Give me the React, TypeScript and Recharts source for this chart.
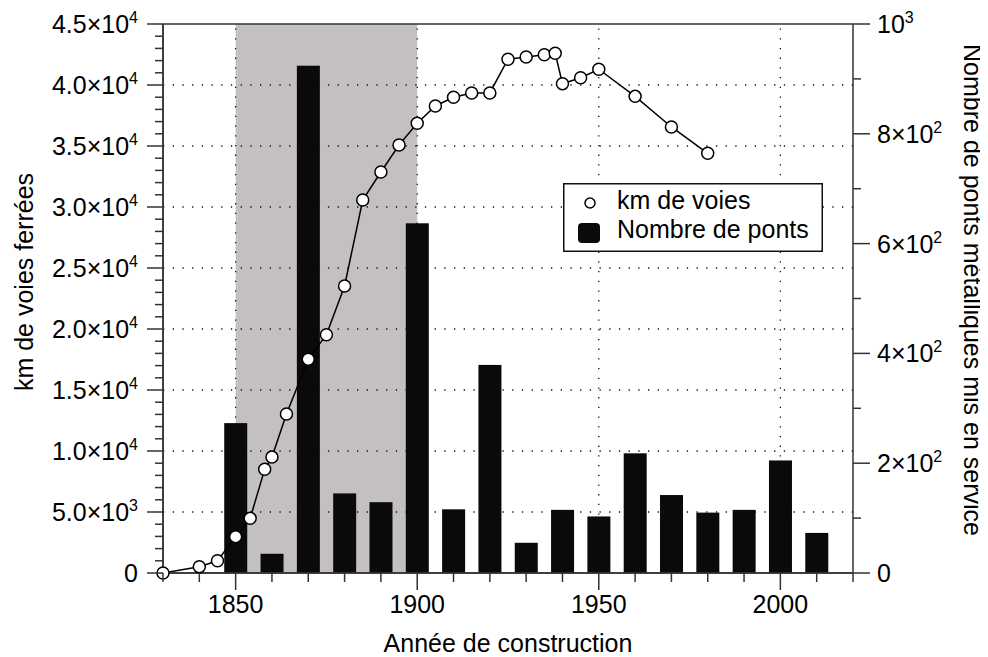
import {
  ComposedChart,
  Bar,
  Line,
  XAxis,
  YAxis,
  ReferenceArea,
  ReferenceLine,
  Legend,
  Label,
} from "recharts";

// km de voies ferrées (left axis)
const kmYears = [
  1830, 1840, 1845, 1850, 1854, 1858, 1860, 1864, 1870, 1875, 1880, 1885, 1890,
  1895, 1900, 1905, 1910, 1915, 1920, 1925, 1930, 1935, 1938, 1940, 1945, 1950,
  1960, 1970, 1980,
];
const kmVoies = [
  0, 520, 1000, 2980, 4480, 8500, 9500, 13030, 17520, 19530, 23530, 30570,
  32870, 35080, 36860, 38280, 38990, 39350, 39350, 42110, 42300, 42480, 42600,
  40110, 40600, 41290, 39070, 36560, 34400,
];

// nombre de ponts métalliques (right axis)
const pontYears = [
  1850, 1860, 1870, 1880, 1890, 1900, 1910, 1920, 1930, 1940, 1950, 1960, 1970,
  1980, 1990, 2000, 2010,
];
const ponts = [
  273, 35, 924, 145, 129, 637, 116, 379, 55, 115, 103, 218, 142, 110, 115, 205,
  73,
];

// axes
const xTicks = [
  1830, 1840, 1850, 1860, 1870, 1880, 1890, 1900, 1910, 1920, 1930, 1940, 1950,
  1960, 1970, 1980, 1990, 2000, 2010, 2020,
];
const xLabels = [1850, 1900, 1950, 2000];
const leftMajor = [0, 5000, 10000, 15000, 20000, 25000, 30000, 35000, 40000, 45000];
const leftLabels = [
  ["0", ""],
  ["5.0×10", "3"],
  ["1.0×10", "4"],
  ["1.5×10", "4"],
  ["2.0×10", "4"],
  ["2.5×10", "4"],
  ["3.0×10", "4"],
  ["3.5×10", "4"],
  ["4.0×10", "4"],
  ["4.5×10", "4"],
];
const rightMajor = [0, 200, 400, 600, 800, 1000];
const rightLabels = [
  ["0", ""],
  ["2×10", "2"],
  ["4×10", "2"],
  ["6×10", "2"],
  ["8×10", "2"],
  ["10", "3"],
];
const gridX = [1850, 1900, 1950, 2000];
const gridY = [5000, 10000, 15000, 20000, 25000, 30000, 35000, 40000];

const leftTicks = Array.from({ length: 46 }, (_, i) => i * 1000);
const rightTicks = Array.from({ length: 11 }, (_, i) => i * 100);

const allYears = Array.from(new Set([...kmYears, ...pontYears])).sort((a, b) => a - b);
const data = allYears.map((year) => {
  const k = kmYears.indexOf(year);
  const p = pontYears.indexOf(year);
  return {
    year,
    km: k >= 0 ? kmVoies[k] : null,
    ponts: p >= 0 ? ponts[p] : null,
  };
});

const FONT = "'Liberation Sans', Arial, Helvetica, sans-serif";
const AXIS = "#333";
const FS = 25;
const BAR_W = 23;

const SupText = ({ x, y, anchor, base, sup }: any) => (
  <text x={x} y={y} textAnchor={anchor} fontSize={FS} fontFamily={FONT} fill="#000">
    <tspan>{base}</tspan>
    {sup && (
      <tspan dy={-10} fontSize={16}>
        {sup}
      </tspan>
    )}
  </text>
);

const LeftTick = ({ x, y, payload }: any) => {
  const i = leftMajor.indexOf(payload.value);
  const major = i >= 0;
  return (
    <g>
      <line x1={x} x2={x - (major ? 16 : 8)} y1={y} y2={y} stroke={AXIS} strokeWidth={1.5} />
      {major && (
        <SupText x={x - 25} y={y + 9} anchor="end" base={leftLabels[i][0]} sup={leftLabels[i][1]} />
      )}
    </g>
  );
};

const RightTick = ({ x, y, payload }: any) => {
  const i = rightMajor.indexOf(payload.value);
  const major = i >= 0;
  return (
    <g>
      <line x1={x} x2={x + (major ? 17 : 8)} y1={y} y2={y} stroke={AXIS} strokeWidth={1.5} />
      {major && (
        <SupText x={x + 24} y={y + 9} anchor="start" base={rightLabels[i][0]} sup={rightLabels[i][1]} />
      )}
    </g>
  );
};

const BottomTick = ({ x, y, payload }: any) => {
  const major = xLabels.includes(payload.value);
  return (
    <g>
      <line x1={x} x2={x} y1={y} y2={y + (major ? 17 : 9)} stroke={AXIS} strokeWidth={1.5} />
      {major && (
        <text x={x} y={y + 40} textAnchor="middle" fontSize={FS} fontFamily={FONT} fill="#000">
          {payload.value}
        </text>
      )}
    </g>
  );
};

// bars keep the library's x / y / height, only widened around their centre
const WideBar = (props: any) => {
  const { x, y, width, height } = props;
  if (height == null || !(height > 0)) return null;
  const cx = x + width / 2;
  return <rect x={cx - BAR_W / 2} y={y} width={BAR_W} height={height} fill="#0a0a0a" />;
};

const LegendBox = () => (
  <svg width={260} height={69} style={{ display: "block" }}>
    <rect x={0.75} y={0.75} width={258.5} height={67.5} fill="#fff" stroke="#111" strokeWidth={1.5} />
    <circle cx={27} cy={20} r={5} fill="#fff" stroke="#000" strokeWidth={1.5} />
    <text x={54} y={26} fontSize={FS} fontFamily={FONT}>
      km de voies
    </text>
    <rect x={15} y={40} width={22} height={20} rx={4} fill="#0a0a0a" />
    <text x={54} y={55} fontSize={FS} fontFamily={FONT}>
      Nombre de ponts
    </text>
  </svg>
);

export default function App() {
  return (
    <div style={{ width: 980, height: 649, fontFamily: FONT, background: "#fff" }}>
      <ComposedChart
        width={980}
        height={649}
        data={data}
        margin={{ top: 16, right: 0, bottom: 0, left: 0 }}
      >
        <ReferenceArea
          yAxisId="left"
          x1={1850}
          x2={1900}
          y1={0}
          y2={45000}
          fill="#c4c0bf"
          fillOpacity={1}
          stroke="none"
        />
        {gridX.map((g) => (
          <ReferenceLine
            key={"gx" + g}
            yAxisId="left"
            x={g}
            stroke="#111"
            strokeWidth={1.3}
            strokeDasharray="1.3 8.4"
          />
        ))}
        {gridY.map((g) => (
          <ReferenceLine
            key={"gy" + g}
            yAxisId="left"
            y={g}
            stroke="#111"
            strokeWidth={1.3}
            strokeDasharray="1.3 8.4"
          />
        ))}
        <Bar
          yAxisId="right"
          dataKey="ponts"
          fill="#0a0a0a"
          shape={<WideBar />}
          isAnimationActive={false}
        />
        <Line
          yAxisId="left"
          dataKey="km"
          type="linear"
          stroke="#000"
          strokeWidth={1.5}
          connectNulls
          dot={{ r: 6, fill: "#fff", stroke: "#000", strokeWidth: 1.5 }}
          activeDot={false}
          isAnimationActive={false}
        />
        {/* frame: top border, and left / bottom lines redrawn over the first marker */}
        <ReferenceLine yAxisId="left" y={45000} stroke={AXIS} strokeWidth={1.5} />
        <ReferenceLine yAxisId="left" y={0} stroke={AXIS} strokeWidth={1.5} />
        <ReferenceLine yAxisId="left" x={1830} stroke={AXIS} strokeWidth={1.5} />
        <XAxis
          dataKey="year"
          type="number"
          domain={[1830, 2020]}
          ticks={xTicks}
          interval={0}
          height={84}
          tickSize={0}
          tickMargin={0}
          tickLine={false}
          axisLine={{ stroke: AXIS, strokeWidth: 1.5 }}
          tick={<BottomTick />}
        >
          <Label
            content={() => (
              <text x={500} y={644} textAnchor="middle" fontSize={FS} fontFamily={FONT} fill="#000">
                Année de construction
              </text>
            )}
          />
        </XAxis>
        <YAxis
          yAxisId="left"
          domain={[0, 45000]}
          ticks={leftTicks}
          interval={0}
          width={155}
          tickSize={0}
          tickMargin={0}
          tickLine={false}
          axisLine={{ stroke: AXIS, strokeWidth: 1.5 }}
          tick={<LeftTick />}
        >
          <Label
            content={() => (
              <text
                x={25}
                y={274}
                transform="rotate(-90, 25, 274)"
                textAnchor="middle"
                fontSize={FS}
                fontFamily={FONT}
                fill="#000"
              >
                km de voies ferrées
              </text>
            )}
          />
        </YAxis>
        <YAxis
          yAxisId="right"
          orientation="right"
          domain={[0, 1000]}
          ticks={rightTicks}
          interval={0}
          width={135}
          tickSize={0}
          tickMargin={0}
          tickLine={false}
          axisLine={{ stroke: AXIS, strokeWidth: 1.5 }}
          tick={<RightTick />}
        >
          <Label
            content={() => (
              <text
                x={956}
                y={282}
                transform="rotate(90, 956, 282)"
                textAnchor="middle"
                fontSize={FS}
                fontFamily={FONT}
                fill="#000"
              >
                Nombre de ponts métalliques mis en service
              </text>
            )}
          />
        </YAxis>
        <Legend
          layout="horizontal"
          verticalAlign="middle"
          align="center"
          content={() => <LegendBox />}
          wrapperStyle={{ left: 555, top: 175, width: 260, height: 69 }}
        />
      </ComposedChart>
    </div>
  );
}
